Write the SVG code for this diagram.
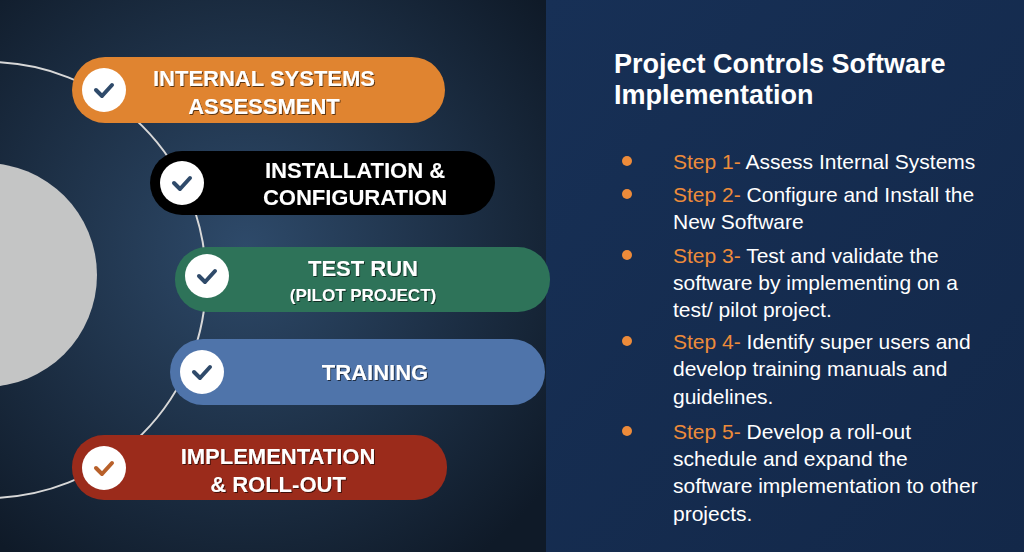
<svg xmlns="http://www.w3.org/2000/svg" width="1024" height="552" viewBox="0 0 1024 552">
<defs>
<radialGradient id="bg" cx="0.45" cy="0.45" r="0.7"><stop offset="0" stop-color="#2e4a6a"/><stop offset="1" stop-color="#0f1a28"/></radialGradient>
<linearGradient id="rbg" x1="0" y1="0" x2="1" y2="1"><stop offset="0" stop-color="#173056"/><stop offset="1" stop-color="#132849"/></linearGradient>
<filter id="sh"><feDropShadow dx="1" dy="1" stdDeviation="0.6" flood-color="#000" flood-opacity="0.6"/></filter>
</defs>
<style>
.pt{font-family:"Liberation Sans",Arial,sans-serif;font-weight:bold;fill:#fff;text-anchor:middle;filter:url(#sh)}
.rt{font-family:"Liberation Sans",Arial,sans-serif;font-size:21px;fill:#fff}
.st{fill:#ED8B3A}
.ck{fill:none;stroke:#2f4a6a;stroke-width:4;stroke-linecap:round;stroke-linejoin:round}
</style>
<rect width="546" height="552" fill="url(#bg)"/>
<rect x="546" width="478" height="552" fill="url(#rbg)"/>
<circle cx="-15" cy="275" r="112" fill="#c4c5c5"/>
<g id="connectors"><circle cx="-12" cy="280" r="218" fill="none" stroke="#d8d8d8" stroke-width="2"/></g>
<g id="n1"><rect x="72" y="57" width="373" height="66" rx="33" fill="#E08430"/><circle cx="104" cy="90" r="22" fill="#fff"/><path class="ck" d="M96 90 l6 6 l10 -11"/><text class="pt" font-size="22" x="264" y="86">INTERNAL SYSTEMS</text><text class="pt" font-size="22" x="264" y="114">ASSESSMENT</text></g>
<g id="n2"><rect x="150" y="151" width="345" height="64" rx="32" fill="#000"/><circle cx="182" cy="183" r="22" fill="#fff"/><path class="ck" d="M174 183 l6 6 l10 -11"/><text class="pt" font-size="22" x="355" y="178">INSTALLATION &amp;</text><text class="pt" font-size="22" x="355" y="205">CONFIGURATION</text></g>
<g id="n3"><rect x="175" y="247" width="375" height="65" rx="32" fill="#2E7359"/><circle cx="207" cy="276" r="22" fill="#fff"/><path class="ck" d="M199 276 l6 6 l10 -11"/><text class="pt" font-size="22" x="363" y="276">TEST RUN</text><text class="pt" font-size="17" x="363" y="301">(PILOT PROJECT)</text></g>
<g id="n4"><rect x="170" y="339" width="375" height="66" rx="33" fill="#4F74AA"/><circle cx="202" cy="372" r="22" fill="#fff"/><path class="ck" d="M194 372 l6 6 l10 -11"/><text class="pt" font-size="22" x="375" y="380">TRAINING</text></g>
<g id="n5"><rect x="72" y="435" width="375" height="65" rx="32" fill="#9B2B1B"/><circle cx="104" cy="468" r="22" fill="#fff"/><path class="ck" d="M96 468 l6 6 l10 -11" style="stroke:#b8602a"/><text class="pt" font-size="22" x="278" y="464">IMPLEMENTATION</text><text class="pt" font-size="22" x="278" y="492">&amp; ROLL-OUT</text></g>
<g id="panel">
<text font-family="Liberation Sans,Arial,sans-serif" font-weight="bold" font-size="27" fill="#fff" x="614" y="73">Project Controls Software</text>
<text font-family="Liberation Sans,Arial,sans-serif" font-weight="bold" font-size="27" fill="#fff" x="614" y="104">Implementation</text>
<g fill="#ED8B3A"><circle cx="627" cy="161" r="5"/><circle cx="627" cy="194" r="5"/><circle cx="627" cy="255" r="5"/><circle cx="627" cy="341" r="5"/><circle cx="627" cy="431" r="5"/></g>
<text class="rt" x="673" y="169"><tspan class="st">Step 1- </tspan>Assess Internal Systems</text>
<text class="rt" x="673" y="202"><tspan class="st">Step 2- </tspan>Configure and Install the</text>
<text class="rt" x="673" y="229">New Software</text>
<text class="rt" x="673" y="263"><tspan class="st">Step 3- </tspan>Test and validate the</text>
<text class="rt" x="673" y="290">software by implementing on a</text>
<text class="rt" x="673" y="317">test/ pilot project.</text>
<text class="rt" x="673" y="349"><tspan class="st">Step 4- </tspan>Identify super users and</text>
<text class="rt" x="673" y="376">develop training manuals and</text>
<text class="rt" x="673" y="404">guidelines.</text>
<text class="rt" x="673" y="439"><tspan class="st">Step 5- </tspan>Develop a roll-out</text>
<text class="rt" x="673" y="466">schedule and expand the</text>
<text class="rt" x="673" y="493">software implementation to other</text>
<text class="rt" x="673" y="521">projects.</text>
</g>
</svg>
